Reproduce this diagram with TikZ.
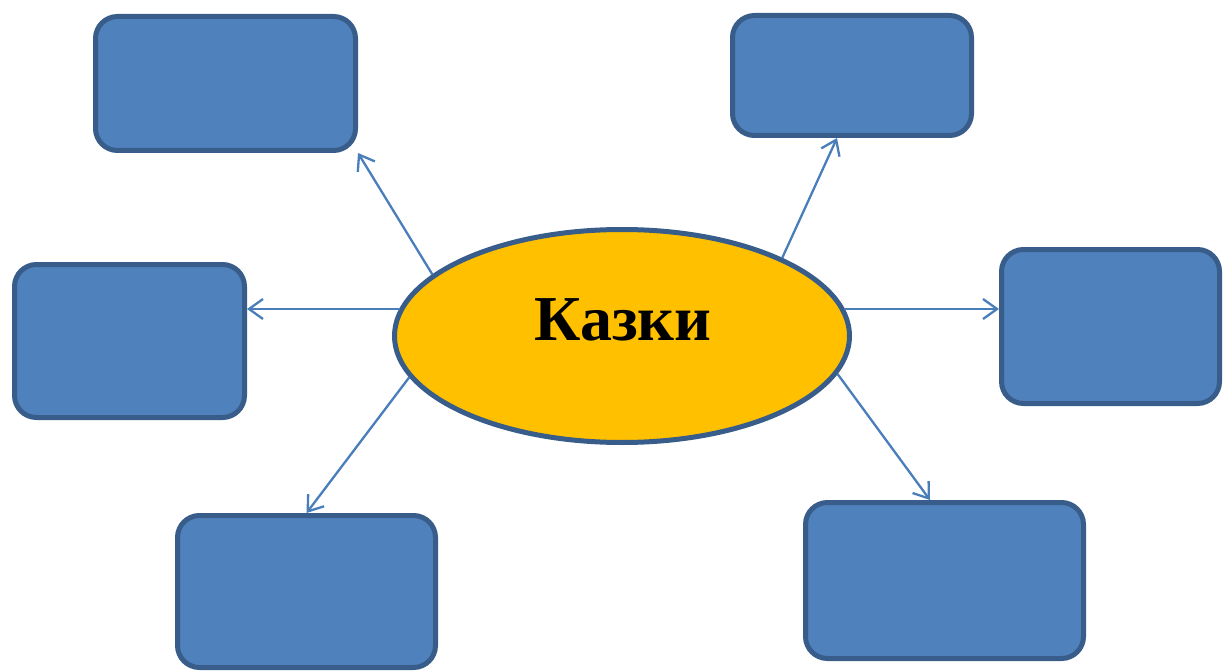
\documentclass[tikz,border=0pt]{standalone}
\usepackage{fontspec}
\setmainfont{Liberation Serif}
\usetikzlibrary{arrows.meta,shapes.geometric}
\definecolor{boxfill}{HTML}{4F81BD}
\definecolor{boxline}{HTML}{385D8A}
\definecolor{ovalfill}{HTML}{FFC000}
\definecolor{linkline}{HTML}{4A7EBB}
\begin{document}
\begin{tikzpicture}[x=1pt,y=-1pt,
  card/.style={draw=boxline, fill=boxfill, line width=5pt,
    rounded corners=22pt, inner sep=0pt},
  oval/.style={ellipse, draw=boxline, fill=ovalfill, line width=5pt,
    inner sep=0pt, minimum width=455pt, minimum height=213pt},
  link/.style={draw=linkline, line width=2.3pt,
    -{Straight Barb[length=14pt,width=20pt]}},
  title/.style={font=\fontsize{64}{64}\selectfont\bfseries, inner sep=0pt}]
\useasboundingbox (0,0) rectangle (1223,671);

% outer boxes
\node[card, minimum width=260pt, minimum height=134pt] (tl)  at (225.5,83.5) {};
\node[card, minimum width=239pt, minimum height=120pt] (tr)  at (852,75.5) {};
\node[card, minimum width=230pt, minimum height=153pt] (lft) at (129.5,341) {};
\node[card, minimum width=218pt, minimum height=154pt] (rgt) at (1110.5,326.5) {};
\node[card, minimum width=258pt, minimum height=152pt] (bl)  at (306.5,591.5) {};
\node[card, minimum width=278pt, minimum height=156pt] (br)  at (944.5,580.5) {};

% central oval and its title
\node[oval] (ell) at (622,336) {};
\node[title] (ttl) at (623,320) {Казки};

% entry points on the side boxes and matching exits on the oval rim
\coordinate (lftin) at ([yshift=32pt]lft.east);
\coordinate (rgtin) at ([yshift=17.5pt]rgt.west);
\coordinate (lftout) at ([xshift=8pt]ell.west |- lftin);
\coordinate (rgtout) at ([xshift=-8pt]ell.east |- rgtin);

% connectors from the oval to the boxes
\draw[link] (ell.162) -- (tl.south east);
\draw[link] (ell.26) -- ([xshift=-15pt]tr.south);
\draw[link] (lftout) -- (lftin);
\draw[link] (rgtout) -- (rgtin);
\draw[link] (ell.191) -- (bl.north);
\draw[link] (ell.350) -- ([xshift=-14.5pt]br.north);
\end{tikzpicture}
\end{document}
